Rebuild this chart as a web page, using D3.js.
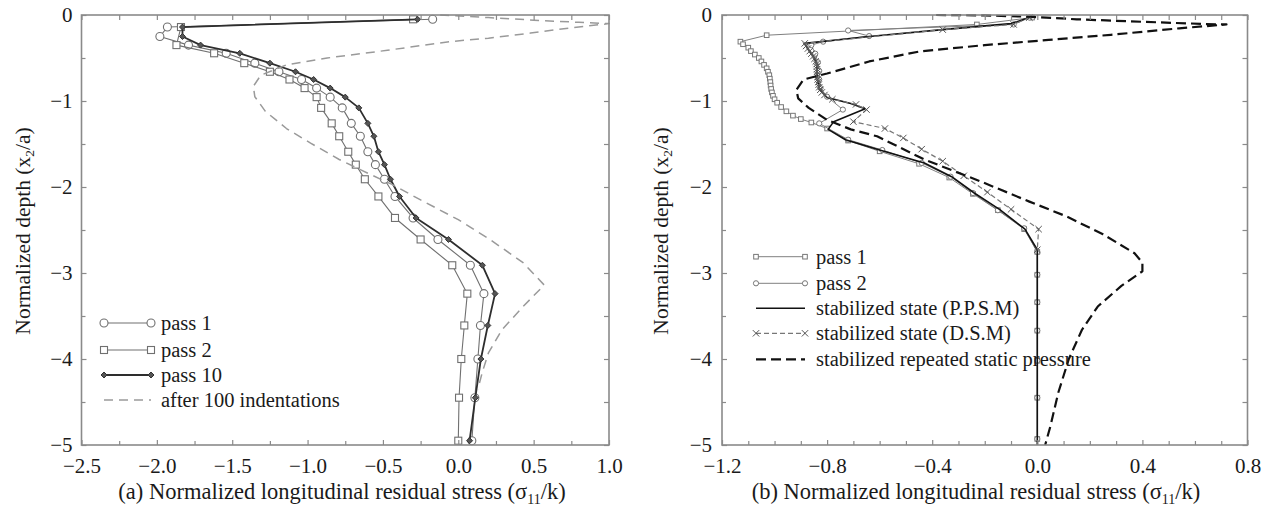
<!DOCTYPE html>
<html><head><meta charset="utf-8">
<script src="https://cdn.jsdelivr.net/npm/d3@7"></script>
<style>
body{margin:0;background:#fff}
text{font-family:"Liberation Serif","Times New Roman",serif;fill:#1a1a1a}
</style>
</head><body>
<svg id="c" width="1264" height="510"></svg>
<script>
// ---------- Panel (a) data: [stress, depth] ----------
const aPass1 = [[-0.17,-0.05],[-1.93,-0.14],[-1.98,-0.25],[-1.79,-0.35],[-1.54,-0.445],[-1.35,-0.56],[-1.19,-0.66],[-1.04,-0.75],[-0.94,-0.85],[-0.85,-0.955],[-0.77,-1.08],[-0.71,-1.26],[-0.65,-1.41],[-0.60,-1.59],[-0.55,-1.74],[-0.49,-1.91],[-0.42,-2.11],[-0.30,-2.36],[-0.135,-2.61],[0.08,-2.91],[0.17,-3.24],[0.147,-3.61],[0.13,-4.0],[0.11,-4.45],[0.09,-4.95]];
const aPass2 = [[-0.30,-0.05],[-1.84,-0.14],[-1.87,-0.35],[-1.62,-0.445],[-1.42,-0.56],[-1.25,-0.66],[-1.12,-0.75],[-1.02,-0.85],[-0.94,-0.955],[-0.91,-1.08],[-0.84,-1.26],[-0.79,-1.41],[-0.73,-1.59],[-0.68,-1.74],[-0.62,-1.91],[-0.53,-2.11],[-0.42,-2.36],[-0.25,-2.61],[-0.04,-2.91],[0.06,-3.24],[0.04,-3.61],[0.02,-4.0],[0.005,-4.45],[0.0,-4.95]];
const aPass10 = [[-0.27,-0.05],[-1.83,-0.14],[-1.83,-0.25],[-1.71,-0.35],[-1.45,-0.445],[-1.25,-0.56],[-1.08,-0.66],[-0.96,-0.75],[-0.85,-0.85],[-0.75,-0.955],[-0.66,-1.08],[-0.60,-1.26],[-0.56,-1.41],[-0.53,-1.59],[-0.49,-1.74],[-0.45,-1.91],[-0.39,-2.11],[-0.28,-2.36],[-0.065,-2.61],[0.16,-2.91],[0.244,-3.24],[0.196,-3.61],[0.15,-4.0],[0.113,-4.45],[0.075,-4.95]];
const aIndent100 = [[-0.12,0],[0.2,-0.03],[0.5,-0.06],[0.8,-0.085],[1.0,-0.1],[0.7,-0.16],[0.48,-0.21],[0.2,-0.27],[-0.06,-0.31],[-0.47,-0.41],[-0.87,-0.5],[-1.14,-0.58],[-1.31,-0.70],[-1.36,-0.83],[-1.35,-0.95],[-1.28,-1.12],[-1.14,-1.32],[-0.98,-1.49],[-0.79,-1.68],[-0.6,-1.84],[-0.44,-1.97],[-0.25,-2.15],[0.0,-2.38],[0.21,-2.61],[0.43,-2.88],[0.57,-3.14],[0.43,-3.39],[0.29,-3.66],[0.2,-3.93],[0.16,-4.15],[0.13,-4.35]];

// ---------- Panel (b) data: [stress, depth] ----------
const bPass1 = [[-0.02,-0.03],[-0.23,-0.11],[-1.03,-0.235],[-1.13,-0.31],[-1.12,-0.34],[-1.10,-0.38],[-1.09,-0.42],[-1.075,-0.46],[-1.06,-0.50],[-1.05,-0.54],[-1.04,-0.58],[-1.03,-0.62],[-1.025,-0.66],[-1.02,-0.70],[-1.018,-0.74],[-1.016,-0.78],[-1.015,-0.82],[-1.013,-0.86],[-1.01,-0.90],[-1.006,-0.94],[-1.0,-0.98],[-0.99,-1.02],[-0.975,-1.07],[-0.955,-1.12],[-0.93,-1.17],[-0.90,-1.21],[-0.86,-1.25],[-0.80,-1.32],[-0.72,-1.46],[-0.60,-1.585],[-0.45,-1.73],[-0.335,-1.89],[-0.245,-2.08],[-0.15,-2.27],[-0.05,-2.49],[0,-2.755],[0,-3.02],[0,-3.34],[0,-3.67],[0,-4.02],[0,-4.45],[0,-4.93]];
const bPass2 = [[-0.03,-0.03],[-0.09,-0.11],[-0.72,-0.18],[-0.64,-0.245],[-0.815,-0.31],[-0.86,-0.35],[-0.845,-0.45],[-0.835,-0.55],[-0.83,-0.65],[-0.83,-0.75],[-0.825,-0.85],[-0.80,-0.95],[-0.74,-1.10],[-0.83,-1.26],[-0.72,-1.45],[-0.59,-1.57],[-0.44,-1.72],[-0.33,-1.88],[-0.245,-2.07],[-0.15,-2.27],[-0.05,-2.48],[0,-2.755],[0,-3.02],[0,-3.34],[0,-3.67],[0,-4.02],[0,-4.45],[0,-4.93]];
const bPPSM = [[-0.03,-0.03],[-0.10,-0.10],[-0.36,-0.17],[-0.64,-0.25],[-0.885,-0.33],[-0.87,-0.41],[-0.853,-0.48],[-0.84,-0.56],[-0.838,-0.64],[-0.838,-0.72],[-0.834,-0.79],[-0.828,-0.87],[-0.80,-0.96],[-0.71,-1.03],[-0.655,-1.09],[-0.775,-1.24],[-0.796,-1.33],[-0.73,-1.45],[-0.60,-1.57],[-0.43,-1.72],[-0.326,-1.88],[-0.24,-2.07],[-0.144,-2.26],[-0.047,-2.49],[0,-2.73],[0,-5]];
const bDSM = [[-0.03,-0.03],[-0.09,-0.11],[-0.36,-0.17],[-0.885,-0.33],[-0.88,-0.36],[-0.873,-0.39],[-0.866,-0.42],[-0.86,-0.45],[-0.853,-0.48],[-0.848,-0.51],[-0.843,-0.54],[-0.84,-0.57],[-0.839,-0.60],[-0.838,-0.63],[-0.838,-0.66],[-0.838,-0.69],[-0.837,-0.72],[-0.836,-0.75],[-0.834,-0.78],[-0.832,-0.81],[-0.83,-0.84],[-0.826,-0.87],[-0.82,-0.90],[-0.81,-0.93],[-0.78,-0.98],[-0.69,-1.04],[-0.65,-1.10],[-0.70,-1.24],[-0.58,-1.32],[-0.51,-1.43],[-0.44,-1.56],[-0.36,-1.70],[-0.28,-1.87],[-0.19,-2.06],[-0.10,-2.26],[0.005,-2.49],[0,-2.73]];
const bStatic = [[-0.385,0],[-0.2,-0.005],[-0.03,-0.02],[0.15,-0.05],[0.41,-0.08],[0.64,-0.105],[0.72,-0.11],[0.54,-0.155],[0.28,-0.23],[0.043,-0.29],[-0.2,-0.35],[-0.45,-0.425],[-0.64,-0.54],[-0.73,-0.62],[-0.80,-0.68],[-0.89,-0.75],[-0.917,-0.87],[-0.91,-0.97],[-0.87,-1.08],[-0.80,-1.22],[-0.71,-1.33],[-0.61,-1.41],[-0.43,-1.68],[-0.22,-1.93],[-0.03,-2.17],[0.11,-2.34],[0.25,-2.55],[0.37,-2.77],[0.40,-2.88],[0.40,-2.98],[0.32,-3.15],[0.23,-3.39],[0.17,-3.66],[0.12,-4.0],[0.08,-4.39],[0.05,-4.78],[0.03,-5.0]];

// ---------- Ticks & labels ----------
const aXMajor = [-2.5,-2.0,-1.5,-1.0,-0.5,0.0,0.5,1.0];
const aXMinor = [-2.25,-1.75,-1.25,-0.75,-0.25,0.25,0.75];
const bXMajor = [-1.2,-0.8,-0.4,0.0,0.4,0.8];
const bXMinor = [-1.1,-1.0,-0.9,-0.7,-0.6,-0.5,-0.3,-0.2,-0.1,0.1,0.2,0.3,0.5,0.6,0.7];
const yMajor = [0,-1,-2,-3,-4,-5];
const yMinor = [-0.5,-1.5,-2.5,-3.5,-4.5];
const aTitle = ["(a) Normalized longitudinal residual stress (σ","11","/k)"];
const bTitle = ["(b) Normalized longitudinal residual stress (σ","11","/k)"];
const yTitle = ["Normalized depth (x","2","/a)"];
const aLegend = ["pass 1","pass 2","pass 10","after 100 indentations"];
const bLegend = ["pass 1","pass 2","stabilized state (P.P.S.M)","stabilized state (D.S.M)","stabilized repeated static pressure"];

const svg = d3.select("#c");
const AX = "#8a8a8a";
const fmt1 = d3.format(".1f"), fmt0 = d3.format("d");

function frame(g, x, y, xMaj, xMin, xPad, yPad) {
  const [x0,x1] = x.range(), [y0,y1] = y.range(); // y0 bottom
  const ax = (gen, tr) => {
    const s = g.append("g").attr("transform", tr).call(gen);
    s.select(".domain").remove();
    s.selectAll("line").attr("stroke", AX).attr("stroke-width", 1.2);
    s.selectAll("text").attr("font-size", 21).attr("fill", "#1a1a1a")
      .attr("font-family", '"Liberation Serif","Times New Roman",serif');
    return s;
  };
  ax(d3.axisBottom(x).tickValues(xMaj).tickSize(-5).tickPadding(xPad).tickFormat(fmt1), `translate(0,${y0})`);
  ax(d3.axisBottom(x).tickValues(xMin).tickSize(-4).tickFormat(""), `translate(0,${y0})`);
  ax(d3.axisTop(x).tickValues(xMaj.concat(xMin)).tickSize(-5).tickFormat(""), `translate(0,${y1})`);
  ax(d3.axisLeft(y).tickValues(yMajor).tickSize(-5).tickPadding(yPad).tickFormat(fmt0), `translate(${x0},0)`);
  ax(d3.axisLeft(y).tickValues(yMinor).tickSize(-4).tickFormat(""), `translate(${x0},0)`);
  ax(d3.axisRight(y).tickValues(yMajor.concat(yMinor)).tickSize(-5).tickFormat(""), `translate(${x1},0)`);
  g.append("rect").attr("x", x0).attr("y", y1).attr("width", x1-x0).attr("height", y0-y1)
    .attr("fill", "none").attr("stroke", AX).attr("stroke-width", 1.6);
}

function subText(g, parts, x, y, size, rotate) {
  const t = g.append("text").attr("font-size", size).attr("text-anchor", "middle")
    .attr("transform", `translate(${x},${y})` + (rotate ? " rotate(-90)" : ""))
    .attr("dy", rotate ? "0.35em" : 0);
  t.append("tspan").text(parts[0]);
  t.append("tspan").attr("font-size", size*0.62).attr("dy", size*0.2).text(parts[1]);
  t.append("tspan").attr("dy", -size*0.2).text(parts[2]);
}

function drawLine(g, data, x, y, o) {
  g.append("path").datum(data)
    .attr("d", d3.line().x(d => x(d[0])).y(d => y(d[1])))
    .attr("fill", "none").attr("stroke", o.stroke).attr("stroke-width", o.width)
    .attr("stroke-dasharray", o.dash || null).attr("stroke-linejoin", "round");
}

function drawMarkers(g, data, x, y, o) {
  const s = g.append("g");
  data.forEach(d => marker(s, x(d[0]), y(d[1]), o));
}
function marker(s, cx, cy, o) {
  const r = o.r;
  if (o.shape === "circle") {
    s.append("circle").attr("cx", cx).attr("cy", cy).attr("r", r)
      .attr("fill", o.fill || "none").attr("stroke", o.stroke).attr("stroke-width", o.sw || 1);
  } else if (o.shape === "square") {
    s.append("rect").attr("x", cx - r).attr("y", cy - r).attr("width", 2*r).attr("height", 2*r)
      .attr("fill", o.fill || "none").attr("stroke", o.stroke).attr("stroke-width", o.sw || 1);
  } else if (o.shape === "diamond") {
    s.append("path").attr("d", `M${cx},${cy-r}L${cx+r},${cy}L${cx},${cy+r}L${cx-r},${cy}Z`)
      .attr("fill", o.fill || "none").attr("stroke", o.stroke).attr("stroke-width", o.sw || 1);
  } else if (o.shape === "x") {
    s.append("path").attr("d", `M${cx-r},${cy-r}L${cx+r},${cy+r}M${cx-r},${cy+r}L${cx+r},${cy-r}`)
      .attr("stroke", o.stroke).attr("stroke-width", o.sw || 1);
  }
}

// ---------- Panel (a) ----------
{
  const g = svg.append("g");
  const x = d3.scaleLinear().domain([-2.5, 1.0]).range([81.5, 609]);
  const y = d3.scaleLinear().domain([-5, 0]).range([445, 15]);
  const styles = [
    {data: aPass1, line:{stroke:"#707070", width:1.1}, m:{shape:"circle", r:4, stroke:"#707070", fill:"#fff", sw:1.1}},
    {data: aPass2, line:{stroke:"#707070", width:1.1}, m:{shape:"square", r:3.5, stroke:"#707070", fill:"#fff", sw:1.1}},
    {data: aPass10, line:{stroke:"#2e2e2e", width:1.8}, m:{shape:"diamond", r:3, stroke:"#333", fill:"#555", sw:1}},
    {data: aIndent100, line:{stroke:"#9a9a9a", width:1.5, dash:"9,6"}, m:null}
  ];
  styles.forEach(s => { drawLine(g, s.data, x, y, s.line); if (s.m) drawMarkers(g, s.data, x, y, s.m); });
  frame(g, x, y, aXMajor, aXMinor, 13, 9);
  subText(g, aTitle, 342, 499, 22.5, false);
  subText(g, yTitle, 22, 231, 21.5, true);
  const ly = [323, 350, 375, 400];
  styles.forEach((s, i) => {
    g.append("line").attr("x1", 104).attr("x2", 151).attr("y1", ly[i]).attr("y2", ly[i])
      .attr("stroke", s.line.stroke).attr("stroke-width", s.line.width).attr("stroke-dasharray", s.line.dash || null);
    if (s.m) { marker(g, 104, ly[i], s.m); marker(g, 151, ly[i], s.m); }
    g.append("text").attr("x", 161).attr("y", ly[i]).attr("dy", "0.35em").attr("font-size", 20.5).text(aLegend[i]);
  });
}

// ---------- Panel (b) ----------
{
  const g = svg.append("g");
  const x = d3.scaleLinear().domain([-1.2, 0.8]).range([722, 1247.5]);
  const y = d3.scaleLinear().domain([-5, 0]).range([445, 15]);
  const styles = [
    {data: bPass1, line:{stroke:"#808080", width:1}, m:{shape:"square", r:2.3, stroke:"#777", fill:"#fff", sw:1}},
    {data: bPass2, line:{stroke:"#808080", width:1}, m:{shape:"circle", r:2.6, stroke:"#777", fill:"#fff", sw:1}},
    {data: bPPSM, line:{stroke:"#111", width:1.6}, m:null},
    {data: bDSM, line:{stroke:"#777", width:1.2, dash:"5,3"}, m:{shape:"x", r:3.2, stroke:"#555", sw:1}},
    {data: bStatic, line:{stroke:"#111", width:2.2, dash:"10,5"}, m:null}
  ];
  styles.forEach(s => { drawLine(g, s.data, x, y, s.line); if (s.m) drawMarkers(g, s.data, x, y, s.m); });
  frame(g, x, y, bXMajor, bXMinor, 13, 10);
  subText(g, bTitle, 976, 499, 22.5, false);
  subText(g, yTitle, 660, 231, 21.5, true);
  const ly = [256.7, 283.3, 308.3, 333.3, 359.3];
  styles.forEach((s, i) => {
    g.append("line").attr("x1", 756).attr("x2", 805).attr("y1", ly[i]).attr("y2", ly[i])
      .attr("stroke", s.line.stroke).attr("stroke-width", s.line.width).attr("stroke-dasharray", s.line.dash || null);
    if (s.m) { marker(g, 756, ly[i], s.m); marker(g, 805, ly[i], s.m); }
    g.append("text").attr("x", 816).attr("y", ly[i]).attr("dy", "0.35em").attr("font-size", 20.5).text(bLegend[i]);
  });
}
</script>
</body></html>
